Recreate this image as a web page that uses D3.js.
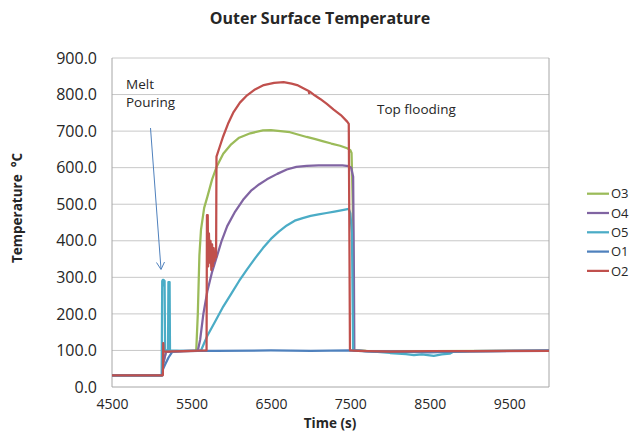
<!DOCTYPE html>
<html>
<head>
<meta charset="utf-8">
<script src="https://cdn.jsdelivr.net/npm/d3@7"></script>
<style>
  body { margin: 0; background: #fff; }
  svg text { font-family: "Open Sans", "Noto Sans", sans-serif; fill: #262626; }
</style>
</head>
<body>
<div id="chart"></div>
<script>
const seriesNames = ["O3", "O4", "O5", "O1", "O2"];
const seriesColors = ["#9bbb59", "#8064a2", "#4bacc6", "#4f81bd", "#c0504d"];
const yTicks = [0, 100, 200, 300, 400, 500, 600, 700, 800, 900];
const xTicks = [4500, 5500, 6500, 7500, 8500, 9500];

// [time (s), temperature (°C)]
const o3 = [
  [4500, 32], [5130, 32], [5140, 60], [5180, 97], [5300, 98], [5560, 99],
  [5580, 200], [5600, 360], [5620, 430], [5660, 490], [5700, 520], [5760, 568],
  [5820, 604], [5900, 638], [6000, 664], [6100, 682], [6240, 694], [6400, 702],
  [6500, 703], [6620, 700], [6740, 697], [6850, 690], [6950, 684], [7060, 678],
  [7160, 672], [7260, 666], [7370, 660], [7460, 653], [7500, 648], [7515, 640],
  [7530, 500], [7545, 100], [7700, 99], [8500, 98], [10000, 99]
];
const o4 = [
  [4500, 32], [5130, 32], [5140, 60], [5180, 96], [5580, 99], [5610, 130],
  [5650, 200], [5700, 262], [5760, 315], [5820, 357], [5880, 400], [5950, 440],
  [6050, 480], [6150, 512], [6250, 537], [6350, 554], [6450, 568], [6580, 583],
  [6700, 595], [6820, 602], [6950, 605], [7100, 606], [7250, 606], [7400, 606],
  [7480, 604], [7510, 600], [7535, 575], [7545, 300], [7550, 100], [7700, 98],
  [8500, 96], [10000, 99]
];
const o5 = [
  [4500, 32], [5125, 32], [5132, 290], [5140, 293], [5145, 278], [5150, 293],
  [5162, 290], [5168, 100], [5205, 100], [5210, 287], [5225, 287], [5230, 100],
  [5400, 99], [5620, 100], [5650, 115], [5700, 140], [5800, 180], [5900, 220],
  [6000, 255], [6100, 290], [6200, 322], [6300, 352], [6400, 380], [6500, 405],
  [6600, 425], [6700, 442], [6800, 455], [6900, 462], [7000, 468], [7100, 472],
  [7200, 476], [7300, 480], [7400, 484], [7480, 487], [7500, 475], [7520, 420],
  [7535, 100], [7800, 97], [8000, 93], [8200, 90], [8300, 87], [8400, 89],
  [8550, 85], [8650, 89], [8750, 91], [8800, 97], [9000, 98], [10000, 99]
];
const o1 = [
  [4500, 32], [5130, 32], [5140, 48], [5170, 62], [5210, 80], [5260, 97],
  [5400, 99], [5800, 99], [6500, 100], [7000, 99], [7500, 100], [7600, 99],
  [7800, 97], [8200, 96], [8500, 95], [8800, 97], [9000, 98], [10000, 100]
];
const o2 = [
  [4500, 32], [5140, 32], [5145, 120], [5150, 97], [5400, 98], [5690, 100],
  [5695, 470], [5705, 470], [5710, 330], [5720, 420], [5730, 340], [5740, 400],
  [5750, 320], [5760, 390], [5770, 330], [5780, 380], [5790, 345], [5800, 370],
  [5810, 355], [5815, 630], [5860, 660], [5900, 686], [5960, 720], [6030, 752],
  [6110, 778], [6200, 798], [6300, 814], [6410, 826], [6540, 832], [6660, 834],
  [6760, 830], [6830, 826], [6920, 816], [6975, 810], [6980, 804], [6990, 808],
  [7050, 798], [7120, 788], [7200, 775], [7290, 759], [7380, 744], [7460, 726],
  [7480, 720], [7488, 400], [7495, 100], [7600, 99], [8000, 97], [8500, 98],
  [9000, 98], [10000, 99]
];
const seriesData = [o3, o4, o5, o1, o2];

const width = 632;
const height = 433;
const margin = { top: 58, right: 83, bottom: 46, left: 112 };

const x = d3.scaleLinear()
  .domain([4500, 10000])
  .range([margin.left, width - margin.right]);

const y = d3.scaleLinear()
  .domain([0, 900])
  .range([height - margin.bottom, margin.top]);

const svg = d3.select("#chart")
  .append("svg")
  .attr("width", width)
  .attr("height", height);

// horizontal gridlines
svg.append("g")
  .selectAll("line")
  .data(yTicks.filter(function (d) { return d > 0; }))
  .join("line")
  .attr("x1", x.range()[0])
  .attr("x2", x.range()[1])
  .attr("y1", function (d) { return y(d); })
  .attr("y2", function (d) { return y(d); })
  .attr("stroke", "#c8c8c8")
  .attr("stroke-width", 1);

// plot frame (left, right, bottom)
svg.append("path")
  .attr("d", `M${x.range()[0]},${y(900)}V${y(0)}H${x.range()[1]}V${y(900)}`)
  .attr("fill", "none")
  .attr("stroke", "#a6a6a6")
  .attr("stroke-width", 1);

const yAxis = d3.axisLeft(y)
  .tickValues(yTicks)
  .tickFormat(d3.format(".1f"))
  .tickSize(0)
  .tickPadding(15);

svg.append("g")
  .attr("transform", `translate(${margin.left},0)`)
  .call(yAxis)
  .call(function (g) { g.select(".domain").remove(); })
  .selectAll("text")
  .style("font-size", "16px")
  .attr("fill", "#262626");

const xAxis = d3.axisBottom(x)
  .tickValues(xTicks)
  .tickFormat(d3.format("d"))
  .tickSize(0)
  .tickPadding(12);

svg.append("g")
  .attr("transform", `translate(0,${y(0)})`)
  .call(xAxis)
  .call(function (g) { g.select(".domain").remove(); })
  .selectAll("text")
  .style("font-size", "14px")
  .attr("fill", "#262626");

const line = d3.line()
  .x(function (d) { return x(d[0]); })
  .y(function (d) { return y(d[1]); });

svg.append("g")
  .selectAll("path")
  .data(seriesData)
  .join("path")
  .attr("d", line)
  .attr("fill", "none")
  .attr("stroke", function (d, i) { return seriesColors[i]; })
  .attr("stroke-width", 2.25)
  .attr("stroke-linejoin", "round");

// annotations
svg.append("text")
  .attr("x", 126)
  .attr("y", 89)
  .style("font-size", "13.5px")
  .text("Melt");

svg.append("text")
  .attr("x", 126)
  .attr("y", 107)
  .style("font-size", "13.5px")
  .text("Pouring");

svg.append("text")
  .attr("x", 377)
  .attr("y", 114)
  .style("font-size", "13.5px")
  .text("Top flooding");

const arrowColor = "#4f81bd";
svg.append("line")
  .attr("x1", 150.5)
  .attr("y1", 128)
  .attr("x2", 161)
  .attr("y2", 269)
  .attr("stroke", arrowColor)
  .attr("stroke-width", 1);

svg.append("path")
  .attr("d", "M156.5,262.5L161,269.5L164.5,262")
  .attr("fill", "none")
  .attr("stroke", arrowColor)
  .attr("stroke-width", 1);

// titles
svg.append("text")
  .attr("x", 320)
  .attr("y", 24)
  .attr("text-anchor", "middle")
  .style("font-size", "16px")
  .style("font-weight", "bold")
  .text("Outer Surface Temperature");

svg.append("text")
  .attr("x", 330)
  .attr("y", 428)
  .attr("text-anchor", "middle")
  .style("font-size", "13.5px")
  .style("font-weight", "bold")
  .text("Time (s)");

svg.append("text")
  .attr("transform", "translate(22,208) rotate(-90)")
  .attr("text-anchor", "middle")
  .style("font-size", "13.5px")
  .style("font-weight", "bold")
  .text("Temperature\u00a0\u00a0°C");

// legend
const legend = svg.append("g")
  .selectAll("g")
  .data(seriesNames)
  .join("g")
  .attr("transform", function (d, i) {
    return `translate(587,${193.7 + i * 19.3})`;
  });

legend.append("line")
  .attr("x1", 0)
  .attr("x2", 22)
  .attr("stroke", function (d, i) { return seriesColors[i]; })
  .attr("stroke-width", 2.25);

legend.append("text")
  .attr("x", 24)
  .attr("dy", "0.36em")
  .style("font-size", "13px")
  .text(function (d) { return d; });
</script>
</body>
</html>
